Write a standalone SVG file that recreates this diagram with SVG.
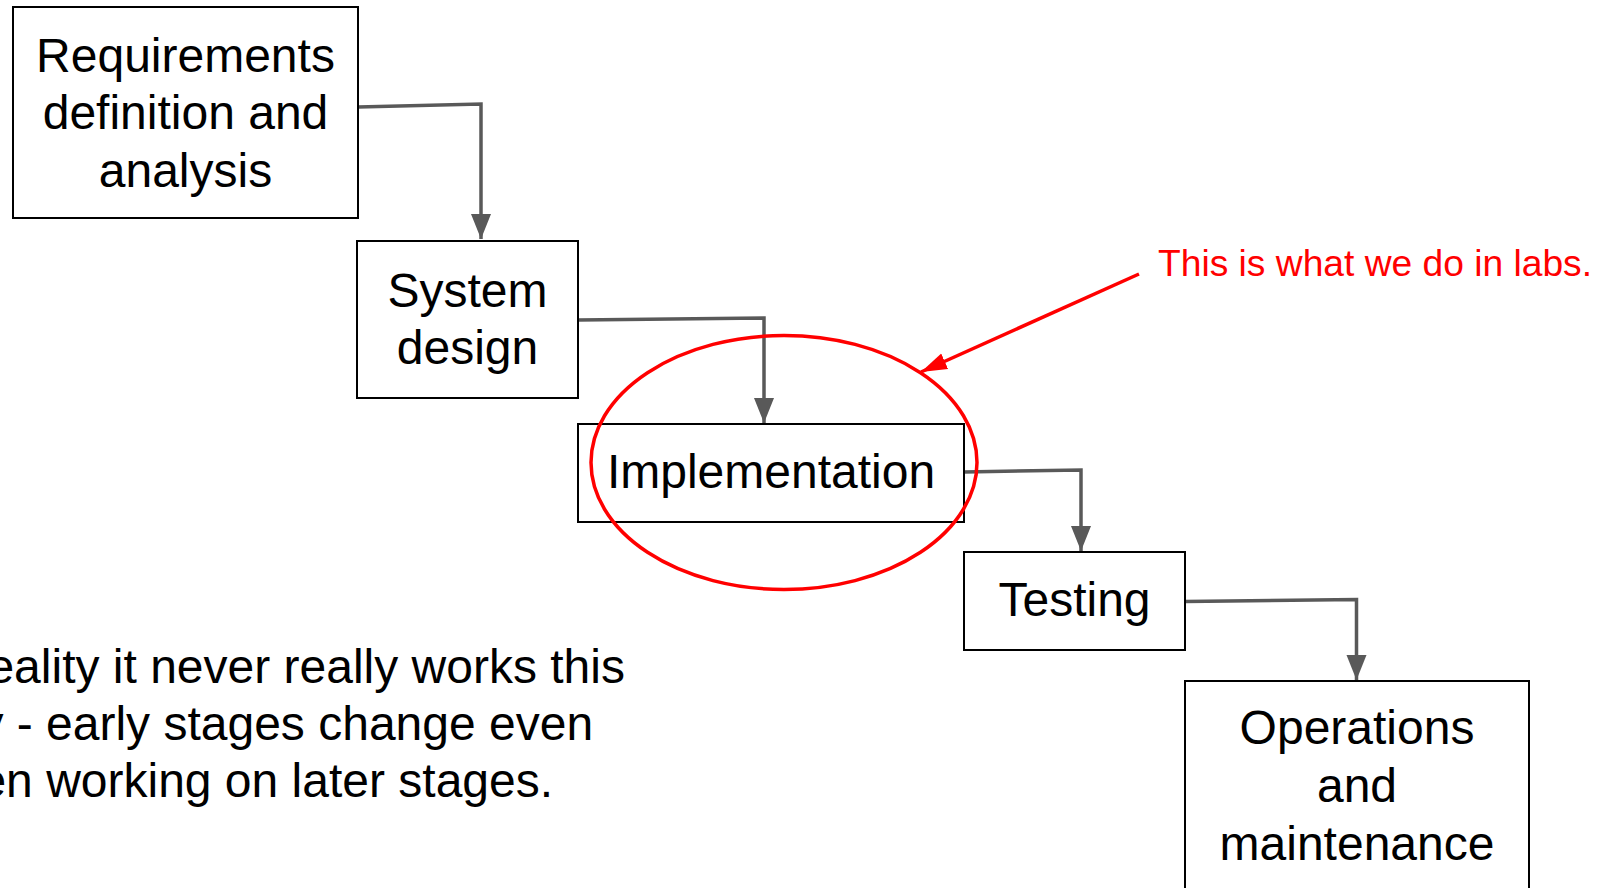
<svg xmlns="http://www.w3.org/2000/svg" width="1604" height="888" viewBox="0 0 1604 888">
  <style>
    .box { fill: #ffffff; stroke: #000000; stroke-width: 2; }
    .label { font-family: "Liberation Sans", Arial, sans-serif; font-size: 48px; fill: #000000; text-anchor: middle; }
    .note { font-family: "Liberation Sans", Arial, sans-serif; font-size: 48px; fill: #000000; }
    .flow { fill: none; stroke: #595959; stroke-width: 3.5; marker-end: url(#head); }
    .callout { fill: none; stroke: #ff0000; stroke-width: 3.5; }
  </style>
  <defs>
    <marker id="head" markerUnits="userSpaceOnUse" markerWidth="26" markerHeight="21" viewBox="0 0 26 21" refX="25" refY="10.5" orient="auto">
      <path d="M0,0.5 L25,10.5 L0,20.5 Z" fill="#595959"/>
    </marker>
    <marker id="redhead" markerUnits="userSpaceOnUse" markerWidth="27" markerHeight="19" viewBox="0 0 27 19" refX="26" refY="9.5" orient="auto">
      <path d="M0,1 L26,9.5 L0,18 Z" fill="#ff0000"/>
    </marker>
  </defs>

  <!-- flow connectors between the stages -->
  <g id="connectors">
    <path class="flow" d="M358,107 L481,104 L481,239"/>
    <path class="flow" d="M578,320 L764,318 L764,423"/>
    <path class="flow" d="M964,472 L1081,470 L1081,551"/>
    <path class="flow" d="M1185,601.5 L1356.5,599.5 L1356.5,680"/>
  </g>

  <g id="requirements">
    <rect class="box" x="13" y="7" width="345" height="211"/>
    <text class="label" x="185.5" y="71.5">Requirements</text>
    <text class="label" x="185.5" y="129">definition and</text>
    <text class="label" x="185.5" y="186.5">analysis</text>
  </g>

  <g id="system-design">
    <rect class="box" x="357" y="241" width="221" height="157"/>
    <text class="label" x="467.5" y="307">System</text>
    <text class="label" x="467.5" y="364">design</text>
  </g>

  <g id="implementation">
    <rect class="box" x="578" y="424" width="386" height="98"/>
    <text class="label" x="771" y="488">Implementation</text>
  </g>

  <g id="testing">
    <rect class="box" x="964" y="552" width="221" height="98"/>
    <text class="label" x="1074.5" y="616">Testing</text>
  </g>

  <g id="operations">
    <rect class="box" x="1185" y="681" width="344" height="215"/>
    <text class="label" x="1357" y="744">Operations</text>
    <text class="label" x="1357" y="802">and</text>
    <text class="label" x="1357" y="860">maintenance</text>
  </g>

  <!-- red highlight around the implementation stage -->
  <g id="highlight">
    <ellipse class="callout" cx="784" cy="462.5" rx="193" ry="127"/>
    <path class="callout" d="M1139,274 L921,372" marker-end="url(#redhead)"/>
    <text x="1158" y="276" font-family="'Liberation Sans', Arial, sans-serif" font-size="37.2" fill="#ff0000">This is what we do in labs.</text>
  </g>

  <g id="remark">
    <text class="note" x="-12.6" y="683">eality it never really works this</text>
    <text class="note" x="-20.6" y="740">y - early stages change even</text>
    <text class="note" x="-20.6" y="797">en working on later stages.</text>
  </g>
</svg>
